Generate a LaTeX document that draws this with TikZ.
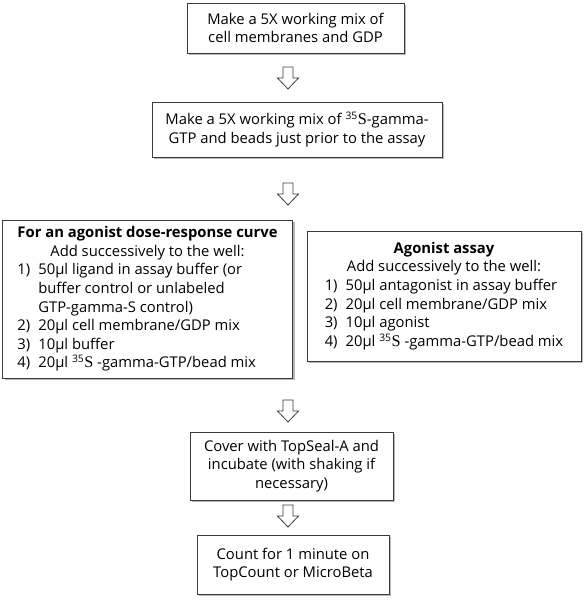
\documentclass[tikz,border=0pt]{standalone}
\usepackage{fontspec}
\setmainfont{Open Sans}
\newfontfamily\isofont{Liberation Serif}[Scale=1.1]
\usetikzlibrary{positioning,shadows}
\definecolor{framec}{HTML}{3A3A3A}
\definecolor{shadec}{HTML}{9A9A9A}
\newcommand{\isoS}{\textsuperscript{35}{\isofont S}}
\tikzset{
  stepbox/.style={draw=framec,line width=1pt,fill=white,align=center,inner sep=0pt,
    font=\fontsize{14.8}{18.6}\selectfont,
    drop shadow={shadow xshift=2pt,shadow yshift=-2pt,fill=shadec,opacity=0.7}},
  downar/.style={draw=framec,line width=0.8pt,fill=white,line join=miter},
  pics/downarrow/.style={code={
    \draw[downar] (-5,0) -- (5,0) -- (5,11) -- (10.5,11) -- (0,22) -- (-10.5,11) -- (-5,11) -- cycle;}}
}
\begin{document}
\begin{tikzpicture}[x=1pt,y=-1pt]
\useasboundingbox (0,0) rectangle (586,600);
% steps
\node[stepbox,minimum width=217pt,minimum height=50pt] (mix) at (295.5,28)
  {Make a 5X working mix of\\cell membranes and GDP};
\node[stepbox,minimum width=290pt,minimum height=55pt] (beads) at (297,129.5)
  {Make a 5X working mix of \isoS-gamma-\\GTP and beads just prior to the assay};
\node[stepbox,minimum width=290pt,minimum height=158pt] (dose) at (147.5,299)
  {\begin{tabular}{@{\hspace{6pt}}l@{\hspace{8pt}}l@{}}
   \multicolumn{2}{c}{\bfseries For an agonist dose-response curve}\\
   \multicolumn{2}{c}{Add successively to the well:}\\
   1) & 50µl ligand in assay buffer (or\\
      & buffer control or unlabeled\\
      & GTP-gamma-S control)\\
   2) & 20µl cell membrane/GDP mix\\
   3) & 10µl buffer\\
   4) & 20µl \isoS\ -gamma-GTP/bead mix
   \end{tabular}};
\node[stepbox,minimum width=274pt,minimum height=130pt] (agon) at (444,296)
  {\begin{tabular}{@{}l@{\hspace{8pt}}l@{}}
   \multicolumn{2}{c}{\bfseries Agonist assay}\\
   \multicolumn{2}{c}{Add successively to the well:}\\
   1) & 50µl antagonist in assay buffer\\
   2) & 20µl cell membrane/GDP mix\\
   3) & 10µl agonist\\
   4) & 20µl \isoS\ -gamma-GTP/bead mix
   \end{tabular}};
\node[stepbox,minimum width=203pt,minimum height=68pt] (seal) at (291.5,466)
  {Cover with TopSeal-A and\\incubate (with shaking if\\necessary)};
\node[stepbox,minimum width=192pt,minimum height=59pt] (count) at (293,564.5)
  {Count for 1 minute on\\TopCount or MicroBeta};
% arrows between steps
\pic (a1) at (288,67) {downarrow};
\pic (a2) at (288,183) {downarrow};
\pic (a3) at (288,400) {downarrow};
\pic (a4) at (288,505) {downarrow};
\end{tikzpicture}
\end{document}
